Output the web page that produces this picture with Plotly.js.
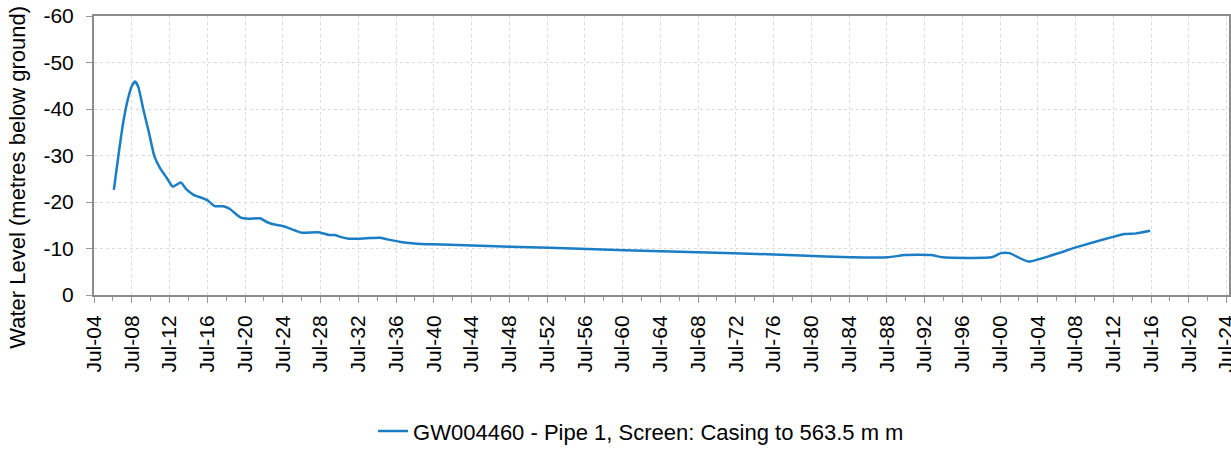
<!DOCTYPE html>
<html>
<head>
<meta charset="utf-8">
<script src="https://cdn.plot.ly/plotly-3.0.1.min.js"></script>
<style>html,body{margin:0;padding:0;background:#fff;}#chart{width:1231px;height:454px;}</style>
</head>
<body>
<div id="chart"></div>
<script>
const seriesName = 'GW004460 - Pipe 1, Screen: Casing to 563.5 m m';
const yTitle = 'Water Level (metres below ground)';
const dates = ['1906-08-08','1907-02-06','1907-08-08','1908-02-06','1908-07-01','1908-11-06','1909-03-14','1909-09-13','1910-04-20','1910-11-25','1911-07-01','1912-03-14','1912-11-06','1913-09-13','1914-04-20','1915-01-01','1916-07-01','1917-04-20','1918-03-14','1918-11-25','1920-01-01','1920-11-25','1922-02-06','1922-10-19','1923-07-01','1924-08-08','1925-07-01','1926-07-01','1928-04-20','1929-05-26','1930-01-01','1930-08-08','1931-07-01','1933-05-26','1934-10-19','1935-07-01','1937-01-01','1938-05-26','1940-07-01','1948-08-08','1956-10-19','1964-08-08','1972-04-20','1979-05-26','1984-09-13','1988-08-08','1990-05-26','1993-03-14','1994-05-26','1999-08-08','2000-08-08','2001-07-01','2003-07-01','2008-10-19','2013-09-13','2014-10-19','2016-05-26'];
const levels = [-22.6,-30.2,-37.2,-42.2,-44.9,-45.9,-44.7,-40.1,-35.1,-29.8,-27.3,-25.2,-23.3,-24.2,-22.7,-21.6,-20.4,-19.1,-19.1,-18.5,-16.7,-16.4,-16.5,-15.7,-15.2,-14.8,-14.1,-13.4,-13.5,-12.9,-12.9,-12.5,-12.1,-12.2,-12.3,-12.0,-11.4,-11.1,-10.9,-10.4,-9.9,-9.4,-9.0,-8.5,-8.1,-8.1,-8.6,-8.6,-8.1,-8.1,-9.0,-9.0,-7.2,-10.4,-13.1,-13.2,-13.8];
const yTicks = [0,-10,-20,-30,-40,-50,-60];

const font = {family: 'Liberation Sans, Arial, sans-serif', color: '#000'};

const trace = {
  x: dates, y: levels, type: 'scatter', mode: 'lines', name: seriesName,
  line: {color: '#1b7dc3', width: 2.5, shape: 'spline', smoothing: 0.5}
};

const layout = {
  width: 1231, height: 454,
  margin: {l: 94, r: 2, t: 16, b: 155},
  paper_bgcolor: '#fff', plot_bgcolor: '#fff',
  font: Object.assign({size: 21}, font),
  showlegend: true,
  legend: {orientation: 'h', x: 0.482, xanchor: 'center', y: -0.488, yanchor: 'middle',
           font: Object.assign({size: 22}, font)},
  xaxis: {
    type: 'date', range: ['1904-07-01', '2024-10-01'],
    tick0: '1904-07-01', dtick: 'M48', tickformat: '%b-%y', tickangle: -90,
    ticks: 'outside', ticklen: 6, tickcolor: '#999', tickwidth: 1,
    ticklabeloverflow: 'allow', ticklabelstandoff: 4,
    minor: {dtick: 'M24', tick0: '1904-07-01', ticks: 'outside', ticklen: 4, tickcolor: '#999', showgrid: false},
    showgrid: true, gridcolor: '#dadada', griddash: 'dot', gridwidth: 1,
    showline: true, linecolor: '#8c8c8c', linewidth: 2, mirror: true,
    tickfont: Object.assign({size: 21}, font), zeroline: false
  },
  yaxis: {
    range: [0, -60], tickvals: yTicks, ticktext: yTicks.map(String),
    ticks: 'outside', ticklen: 6, tickcolor: '#999', ticklabelstandoff: 8,
    showgrid: true, gridcolor: '#dadada', griddash: 'dot', gridwidth: 1,
    showline: true, linecolor: '#8c8c8c', linewidth: 2, mirror: true,
    zeroline: false,
    tickfont: Object.assign({size: 21}, font)
  },
  annotations: [{
    text: yTitle, textangle: -90, showarrow: false,
    xref: 'paper', yref: 'paper', x: (18 - 94) / 1135, y: (299 - 180) / 283,
    xanchor: 'center', yanchor: 'middle',
    font: Object.assign({size: 22}, font)
  }]
};

Plotly.newPlot('chart', [trace], layout, {displayModeBar: false, staticPlot: true});
</script>
</body>
</html>
